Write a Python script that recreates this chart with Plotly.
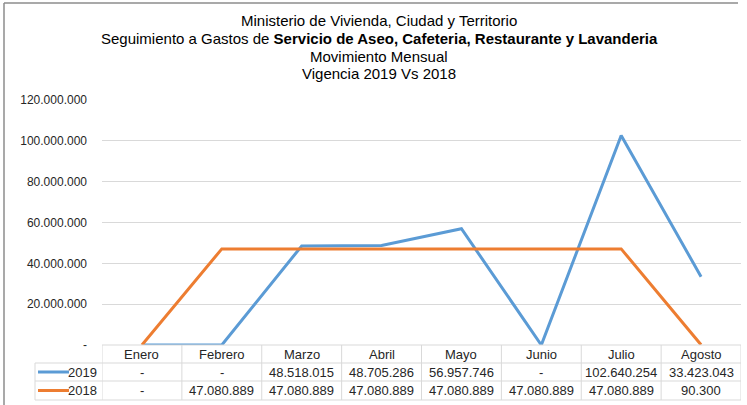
import plotly.graph_objects as go

months = ["Enero", "Febrero", "Marzo", "Abril", "Mayo", "Junio", "Julio", "Agosto"]
values_2019 = [0, 0, 48518015, 48705286, 56957746, 0, 102640254, 33423043]
values_2018 = [0, 47080889, 47080889, 47080889, 47080889, 47080889, 47080889, 90300]
series_names = ["2019", "2018"]
series_colors = ["#5B9BD5", "#ED7D31"]
y_tick_vals = [0, 20000000, 40000000, 60000000, 80000000, 100000000, 120000000]
title_lines = [
    "Ministerio de Vivienda, Ciudad y Territorio",
    "Seguimiento a Gastos de <b>Servicio de Aseo, Cafeteria, Restaurante y Lavanderia</b>",
    "Movimiento Mensual",
    "Vigencia 2019 Vs 2018",
]


def fmt(v):
    if v == 0:
        return "-"
    return f"{v:,}".replace(",", ".")


W, H = 747, 405
L, R, T, B = 102, 6, 100, 60
ph = H - T - B
pw = W - L - R


def py(pix):  # pixel y -> paper y
    return (H - B - pix) / ph


def px(pix):  # pixel x -> paper x
    return (pix - L) / pw


FONT = "Liberation Sans, Arial, sans-serif"
TXT = "#262626"
GRID = "#D9D9D9"

fig = go.Figure()
for name, vals, col in zip(series_names, [values_2019, values_2018], series_colors):
    fig.add_trace(go.Scatter(x=months, y=vals, mode="lines", name=name,
                             line=dict(color=col, width=3), showlegend=False))

shapes = []
annotations = []

# title lines
title_y = [20, 38, 56, 73]
for txt, yy in zip(title_lines, title_y):
    annotations.append(dict(x=px(379), y=py(yy), xref="paper", yref="paper", text=txt,
                            showarrow=False, xanchor="center", yanchor="middle",
                            font=dict(family=FONT, size=15, color="#000000")))

# table rows (pixel y of lines)
y_head_top, y_r1, y_r2, y_bot = 345, 363, 381, 400
n = len(months)
shapes.append(dict(type="line", xref="x", yref="paper", x0=-0.5, x1=n - 0.5,
                   y0=py(y_head_top), y1=py(y_head_top), line=dict(color=GRID, width=1)))
for yy in (y_r1, y_r2, y_bot):
    shapes.append(dict(type="line", xref="paper", yref="paper", x0=px(35), x1=1,
                       y0=py(yy), y1=py(yy), line=dict(color=GRID, width=1)))
for k in range(n + 1):
    shapes.append(dict(type="line", xref="x", yref="paper", x0=k - 0.5, x1=k - 0.5,
                       y0=py(y_head_top), y1=py(y_bot), line=dict(color=GRID, width=1)))
shapes.append(dict(type="line", xref="paper", yref="paper", x0=px(35), x1=px(35),
                   y0=py(y_r1), y1=py(y_bot), line=dict(color=GRID, width=1)))

for i, m in enumerate(months):
    annotations.append(dict(x=i, y=py((y_head_top + y_r1) / 2), xref="x", yref="paper",
                            text=m, showarrow=False, xanchor="center", yanchor="middle",
                            font=dict(family=FONT, size=13, color=TXT)))
for r, (name, vals, col) in enumerate(zip(series_names, [values_2019, values_2018], series_colors)):
    yc = py((y_r1 + y_r2) / 2 if r == 0 else (y_r2 + y_bot) / 2)
    for i, v in enumerate(vals):
        annotations.append(dict(x=i, y=yc, xref="x", yref="paper", text=fmt(v),
                                showarrow=False, xanchor="center", yanchor="middle",
                                font=dict(family=FONT, size=13, color=TXT)))
    annotations.append(dict(x=px(99), y=yc, xref="paper", yref="paper", text=name,
                            xanchor="right", yanchor="middle", showarrow=False,
                            font=dict(family=FONT, size=13, color=TXT)))
    shapes.append(dict(type="line", xref="paper", yref="paper", x0=px(38), x1=px(69),
                       y0=yc, y1=yc, line=dict(color=col, width=3)))

# outer border (left and top)
shapes.append(dict(type="line", xref="paper", yref="paper", x0=px(4), x1=px(4),
                   y0=py(3), y1=py(H), line=dict(color="#8C8C8C", width=1.5)))
shapes.append(dict(type="line", xref="paper", yref="paper", x0=px(4), x1=px(738),
                   y0=py(3), y1=py(3), line=dict(color="#8C8C8C", width=1.5)))

fig.update_layout(
    width=W, height=H,
    margin=dict(l=L, r=R, t=T, b=B),
    paper_bgcolor="white", plot_bgcolor="white",
    xaxis=dict(type="category", range=[-0.5, n - 0.5], showticklabels=False,
               showgrid=False, zeroline=False, showline=False, ticks=""),
    yaxis=dict(range=[0, 120000000], tickvals=y_tick_vals,
               ticktext=[fmt(v) for v in y_tick_vals],
               showgrid=True, gridcolor=GRID, gridwidth=1, zeroline=False,
               showline=False, ticks="", ticklabelstandoff=14,
               tickfont=dict(family=FONT, size=12, color=TXT)),
    shapes=shapes,
    annotations=annotations,
)

fig.write_html("out.html", config={"displayModeBar": False},
               post_script="document.body.style.margin='0';document.body.style.overflow='hidden';")
